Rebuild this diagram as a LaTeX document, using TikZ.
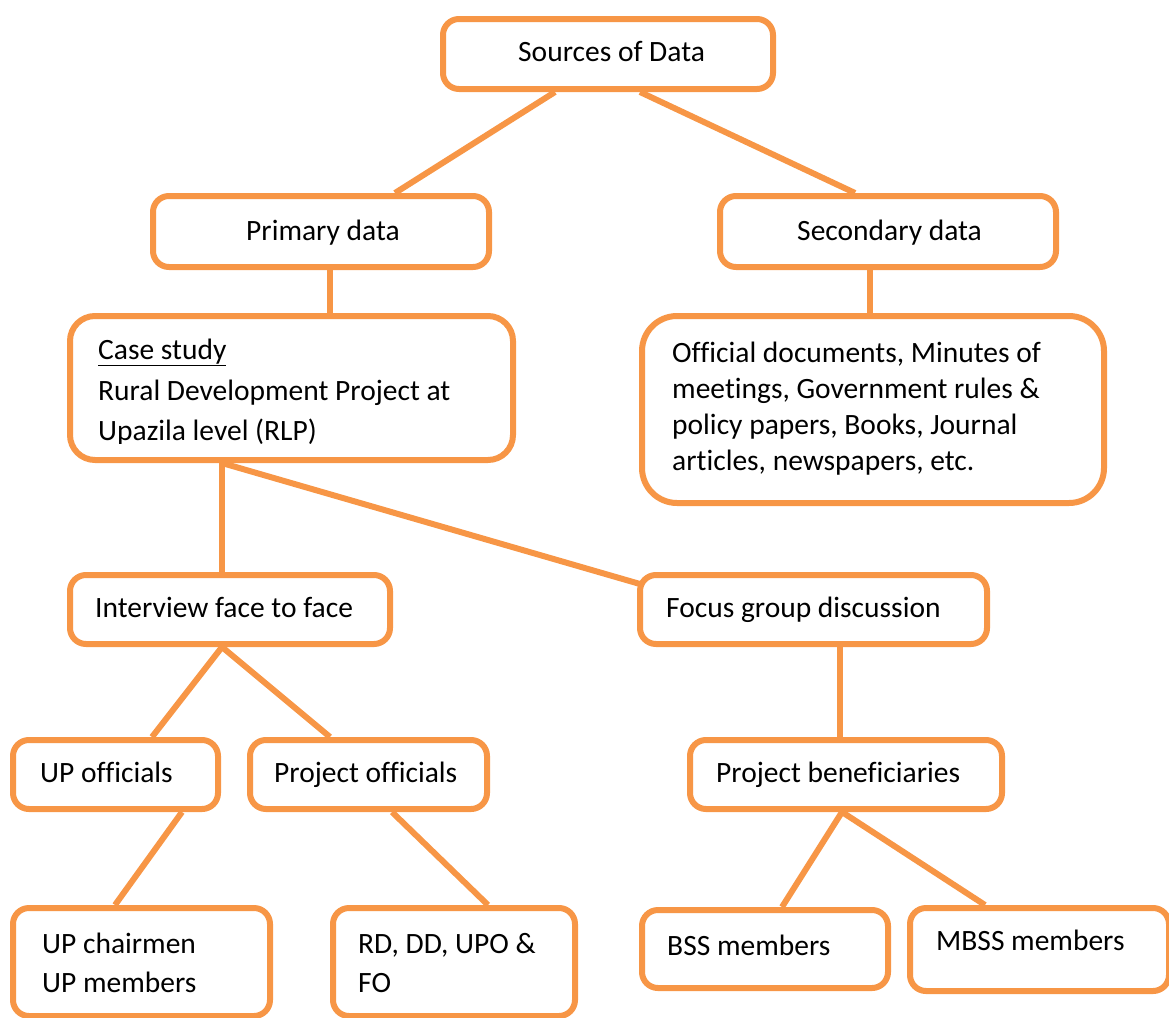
\documentclass[tikz,border=0pt]{standalone}
\usepackage{fontspec}
\setmainfont[Ligatures={NoCommon}]{Carlito}
\usetikzlibrary{calc}
\definecolor{acc}{HTML}{F79646}
\tikzset{
  box/.style={draw=acc, line width=6pt, rounded corners=16pt, fill=white, inner sep=0pt},
  conn/.style={draw=acc, line width=6pt},
  txt/.style={anchor=base west, inner sep=0pt, font=\fontsize{29.5}{40}\selectfont, align=left},
}
\begin{document}
\begin{tikzpicture}[x=1pt,y=-1pt]
\useasboundingbox (0,0) rectangle (1169,1017);
% boxes (centre, size of centre line)
\node[box, minimum width=330, minimum height=70] (src) at (608,54) {};
\node[box, minimum width=336, minimum height=71] (prim) at (321,231.5) {};
\node[box, minimum width=336, minimum height=71] (sec) at (888,231.5) {};
\node[box, rounded corners=25pt, minimum width=443, minimum height=144] (case) at (291.5,388) {};
\node[box, rounded corners=35pt, minimum width=462, minimum height=187] (off) at (873,409.5) {};
\node[box, minimum width=320, minimum height=69] (intv) at (230,609.5) {};
\node[box, minimum width=347, minimum height=69] (focus) at (813.5,609.5) {};
\node[box, minimum width=205, minimum height=69] (upo) at (115.5,774.5) {};
\node[box, minimum width=237, minimum height=69] (proj) at (368.5,774.5) {};
\node[box, minimum width=312, minimum height=69] (ben) at (846,774.5) {};
\node[box, minimum width=257, minimum height=108] (upc) at (141.5,962) {};
\node[box, minimum width=242, minimum height=108] (rd) at (454,962) {};
\node[box, minimum width=246, minimum height=78] (bss) at (765,949) {};
\node[box, minimum width=259, minimum height=83] (mbss) at (1039.5,949.5) {};
% connectors
\draw[conn] ($(src.south west)+(115,0)$) -- ($(prim.north west)+(245,0)$);
\draw[conn] ($(src.south west)+(200,0)$) -- ($(sec.north west)+(138,0)$);
\draw[conn] ($(prim.south west)+(180,0)$) -- ($(case.north west)+(263,0)$);
\draw[conn] ($(sec.south west)+(153,0)$) -- ($(off.north west)+(231,0)$);
\draw[conn] ($(case.south west)+(155,0)$) -- ($(intv.north west)+(155,0)$);
\draw[conn] ($(case.south west)+(155,0)$) -- ($(focus.north west)+(3,12)$);
\draw[conn] ($(intv.south west)+(155,0)$) -- ($(upo.north west)+(142,0)$);
\draw[conn] ($(intv.south west)+(155,0)$) -- ($(proj.north west)+(83,0)$);
\draw[conn] ($(focus.south west)+(203,0)$) -- ($(ben.north west)+(153,0)$);
\draw[conn] ($(upo.south west)+(172,0)$) -- ($(upc.north west)+(105,0)$);
\draw[conn] ($(proj.south west)+(145,0)$) -- ($(rd.north west)+(158,0)$);
\draw[conn] ($(ben.south west)+(155,0)$) -- ($(bss.north west)+(143,0)$);
\draw[conn] ($(ben.south west)+(155,0)$) -- ($(mbss.north west)+(78,0)$);
% texts
\node[txt] (tsrc) at (518,61) {Sources of Data};
\node[txt] (tprim) at (246,240) {Primary data};
\node[txt] (tsec) at (797,240) {Secondary data};
\node[txt] (tcase1) at (98,359) {\underline{Case study}};
\node[txt] (tcase2) at (98,400) {Rural Development Project at};
\begin{scope}
\clip (80,300) rectangle (500,443);
\node[txt] (tcase3) at (98,440) {Upazila level (RLP)};
\end{scope}
\node[txt] (toff1) at (672,362) {Official documents, Minutes of};
\node[txt] (toff2) at (672,398) {meetings, Government rules \&};
\node[txt] (toff3) at (672,434) {policy papers, Books, Journal};
\node[txt] (toff4) at (672,470) {articles, newspapers, etc.};
\node[txt] (tintv) at (95,617) {Interview face to face};
\node[txt] (tfocus) at (666,617) {Focus group discussion};
\node[txt] (tupo) at (40,782) {UP officials};
\node[txt] (tproj) at (274,782) {Project officials};
\node[txt] (tben) at (716,782) {Project beneficiaries};
\node[txt] (tupc1) at (42,953) {UP chairmen};
\node[txt] (tupc2) at (42,992) {UP members};
\node[txt] (trd1) at (358,953) {RD, DD, UPO \&};
\node[txt] (trd2) at (358,992) {FO};
\node[txt] (tbss) at (667,955) {BSS members};
\node[txt] (tmbss) at (936,950) {MBSS members};
\end{tikzpicture}
\end{document}
